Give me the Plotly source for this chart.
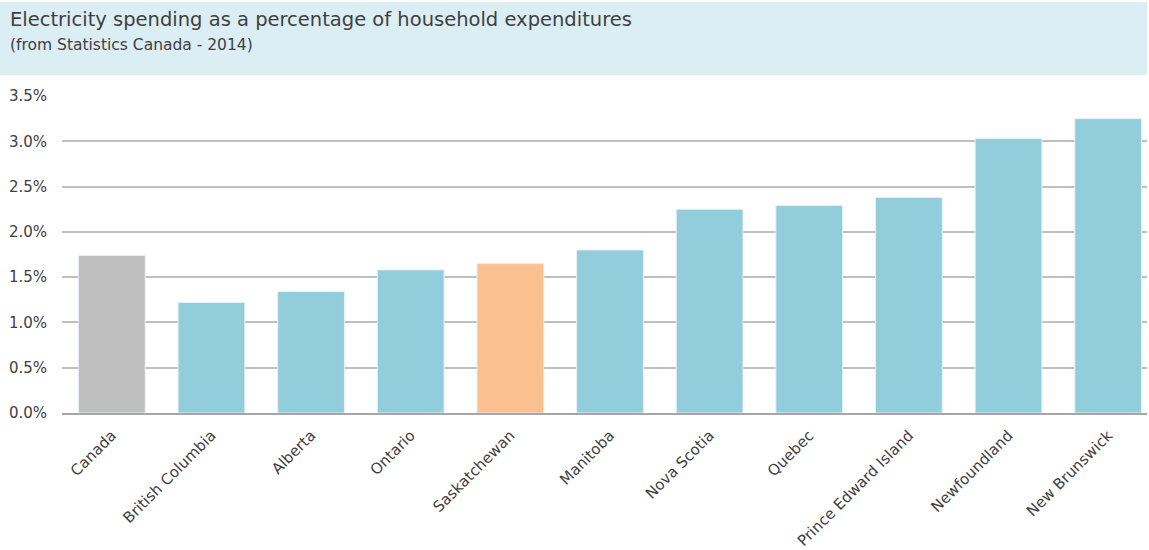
import plotly.graph_objects as go

categories = ["Canada", "British Columbia", "Alberta", "Ontario", "Saskatchewan",
              "Manitoba", "Nova Scotia", "Quebec", "Prince Edward Island",
              "Newfoundland", "New Brunswick"]
values = [1.74, 1.22, 1.34, 1.58, 1.65, 1.80, 2.25, 2.29, 2.38, 3.03, 3.25]
bar_colors = ["#BFBFBF", "#92CDDC", "#92CDDC", "#92CDDC", "#FAC090",
              "#92CDDC", "#92CDDC", "#92CDDC", "#92CDDC", "#92CDDC", "#92CDDC"]
y_ticks = [0, 0.5, 1.0, 1.5, 2.0, 2.5, 3.0, 3.5]
y_tick_labels = ["0.0%", "0.5%", "1.0%", "1.5%", "2.0%", "2.5%", "3.0%", "3.5%"]

W, H = 1149, 550
L, R, T, B = 62, 2, 96, 137
pw, ph = W - L - R, H - T - B

def px(x):
    return (x - L) / pw

def py(y):
    return (H - B - y) / ph

fig = go.Figure(go.Bar(
    x=categories, y=values,
    marker=dict(color=bar_colors, line=dict(color="#E4F1F5", width=1)),
    width=0.67,
))

font_family = "'DejaVu Sans', sans-serif"
text_color = "#404040"
fig.update_layout(
    width=W, height=H,
    margin=dict(l=L, r=R, t=T, b=B),
    plot_bgcolor="white", paper_bgcolor="white",
    showlegend=False,
    font=dict(family=font_family, color=text_color, size=15),
    xaxis=dict(
        range=[-0.5, 10.39], tickangle=-45, showgrid=False,
        showline=True, linecolor="#A6A6A6", linewidth=1.5,
        ticks="", ticklabelstandoff=6, automargin=False,
        tickfont=dict(size=15, color=text_color),
    ),
    yaxis=dict(
        range=[0, 3.5], tickvals=y_ticks, ticktext=y_tick_labels,
        showgrid=True, gridcolor="#BFBFBF", gridwidth=1.5,
        zeroline=False, showline=False, ticks="",
        ticklabelstandoff=14, automargin=False,
        tickfont=dict(size=15, color=text_color),
    ),
    shapes=[dict(
        type="rect", xref="paper", yref="paper",
        x0=px(0), x1=px(1147), y0=py(75), y1=py(2),
        fillcolor="#DBEEF4", line=dict(width=0), layer="below",
    )],
    annotations=[
        dict(text="Electricity spending as a percentage of household expenditures",
             xref="paper", yref="paper", x=px(8), y=py(20),
             xanchor="left", yanchor="middle", showarrow=False,
             font=dict(size=19.5, color=text_color, family=font_family)),
        dict(text="(from Statistics Canada - 2014)",
             xref="paper", yref="paper", x=px(8), y=py(45),
             xanchor="left", yanchor="middle", showarrow=False,
             font=dict(size=15.5, color=text_color, family=font_family)),
    ],
)

fig.write_html("out.html")
